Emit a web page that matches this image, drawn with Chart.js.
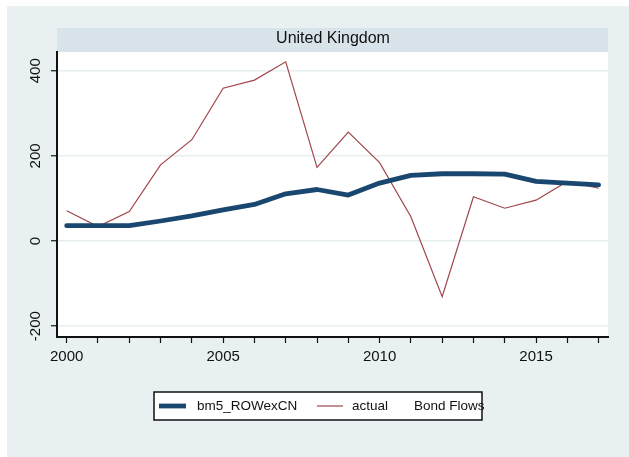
<!DOCTYPE html>
<html>
<head>
<meta charset="utf-8">
<script src="https://cdn.jsdelivr.net/npm/chart.js@4/dist/chart.umd.min.js"></script>
<style>
  html, body { margin: 0; padding: 0; background: #ffffff; }
  #wrap { width: 629px; height: 457px; }
</style>
</head>
<body>
<div id="wrap"><canvas id="c" width="629" height="457"></canvas></div>
<script>
// Bond flows, United Kingdom: model fit vs. actual
const years = [2000, 2001, 2002, 2003, 2004, 2005, 2006, 2007, 2008,
               2009, 2010, 2011, 2012, 2013, 2014, 2015, 2016, 2017];
const bm5ROWexCN = [36, 36, 36, 47, 59, 73, 86, 111, 121,
                    108, 136, 154, 158, 158, 157, 140, 136, 132];
const actual = [71, 34, 69, 179, 238, 359, 378, 421, 173,
                256, 184, 57, -131, 104, 77, 96, 140, 124];
const yTicks = [-200, 0, 200, 400];
const xLabelYears = [2000, 2005, 2010, 2015];
const panelTitle = 'United Kingdom';
const legendTitle = 'Bond Flows';
const seriesNames = ['bm5_ROWexCN', 'actual'];

const FONT = '"Liberation Sans", Arial, sans-serif';
const BG = '#e8f0f2';
const STRIP = '#d8e4ea';
const GRID = '#e6eef0';

const toPoints = vals => vals.map((v, i) => ({ x: years[i], y: v }));

const framePlugin = {
  id: 'frame',
  beforeDraw(chart) {
    const { ctx, chartArea: a } = chart;
    ctx.save();
    ctx.fillStyle = '#ffffff';
    ctx.fillRect(0, 0, chart.width, chart.height);
    ctx.fillStyle = BG;
    ctx.fillRect(7, 6, chart.width - 7, chart.height - 6);
    // panel strip
    ctx.fillStyle = STRIP;
    ctx.fillRect(a.left, 28, a.right - a.left, a.top - 28);
    ctx.fillStyle = '#ffffff';
    ctx.fillRect(a.left, a.top, a.right - a.left, a.bottom - a.top);
    ctx.fillStyle = '#111111';
    ctx.font = '16px ' + FONT;
    ctx.textAlign = 'center';
    ctx.textBaseline = 'middle';
    ctx.fillText(panelTitle, (a.left + a.right) / 2 + 0.5, 39);
    ctx.restore();
  },
  afterDraw(chart) {
    const { ctx } = chart;
    const ys = chart.scales.y;
    ctx.save();
    // rotated y tick labels
    ctx.fillStyle = '#111111';
    ctx.font = '15px ' + FONT;
    ctx.textAlign = 'center';
    ctx.textBaseline = 'middle';
    yTicks.forEach(v => {
      const py = ys.getPixelForValue(v);
      ctx.save();
      ctx.translate(36, py);
      ctx.rotate(-Math.PI / 2);
      ctx.fillText(String(v), 0, 0);
      ctx.restore();
    });
    // legend box
    const bx = 154, by = 392, bw = 328, bh = 28;
    ctx.fillStyle = '#ffffff';
    ctx.fillRect(bx, by, bw, bh);
    ctx.strokeStyle = '#111111';
    ctx.lineWidth = 1.5;
    ctx.strokeRect(bx, by, bw, bh);
    const ds = chart.data.datasets;
    const cy = 406;
    const items = [
      { x0: 159, x1: 186, tx: 197 },
      { x0: 317, x1: 343, tx: 352 }
    ];
    ctx.font = '13.5px ' + FONT;
    ctx.textAlign = 'left';
    ctx.textBaseline = 'middle';
    items.forEach((it, i) => {
      ctx.strokeStyle = ds[i].borderColor;
      ctx.lineWidth = ds[i].borderWidth;
      ctx.beginPath();
      ctx.moveTo(it.x0, cy);
      ctx.lineTo(it.x1, cy);
      ctx.stroke();
      ctx.fillStyle = '#111111';
      ctx.fillText(ds[i].label, it.tx, cy);
    });
    ctx.fillText(legendTitle, 414, cy);
    ctx.restore();
  }
};

new Chart(document.getElementById('c'), {
  type: 'line',
  data: {
    datasets: [
      {
        label: seriesNames[0],
        data: toPoints(bm5ROWexCN),
        borderColor: '#1a476f',
        borderWidth: 4.8,
        pointRadius: 0,
        tension: 0,
        borderJoinStyle: 'round',
        borderCapStyle: 'round'
      },
      {
        label: seriesNames[1],
        data: toPoints(actual),
        borderColor: '#a0454b',
        borderWidth: 1.2,
        pointRadius: 0,
        tension: 0
      }
    ]
  },
  options: {
    responsive: false,
    animation: false,
    layout: { padding: { top: 52, right: 21, left: 0, bottom: 0 } },
    plugins: {
      legend: { display: false },
      title: { display: false },
      tooltip: { enabled: false }
    },
    scales: {
      x: {
        type: 'linear',
        min: 1999.69,
        max: 2017.3,
        afterBuildTicks: s => { s.ticks = years.map(v => ({ value: v })); },
        afterFit: s => { s.height = 120; },
        border: { display: true, color: '#111111', width: 2 },
        grid: { drawOnChartArea: false, drawTicks: true, tickLength: 6, tickColor: '#111111', tickWidth: 1.2 },
        ticks: {
          autoSkip: false,
          maxRotation: 0,
          padding: 5,
          color: '#111111',
          font: { family: FONT, size: 15 },
          callback: v => (xLabelYears.includes(v) ? String(v) : '')
        }
      },
      y: {
        type: 'linear',
        min: -225.5,
        max: 444,
        afterBuildTicks: s => { s.ticks = yTicks.map(v => ({ value: v })); },
        afterFit: s => { s.width = 57; },
        border: { display: true, color: '#111111', width: 2 },
        grid: { color: GRID, lineWidth: 1.5, drawTicks: true, tickLength: 6, tickColor: '#111111', tickWidth: 1.2 },
        ticks: { display: false }
      }
    }
  },
  plugins: [framePlugin]
});
</script>
</body>
</html>
